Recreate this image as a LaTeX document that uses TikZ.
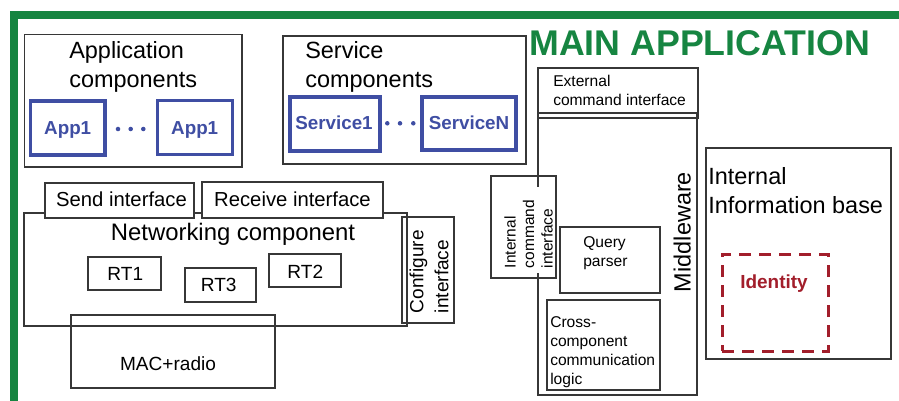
\documentclass[tikz,border=0pt]{standalone}
\usepackage{fontspec}
\setmainfont{Liberation Sans}
\usetikzlibrary{fit}
\definecolor{framegreen}{RGB}{22,133,65}
\definecolor{compblue}{RGB}{63,78,163}
\definecolor{idred}{RGB}{162,30,43}
\definecolor{boxgray}{RGB}{55,55,55}
\begin{document}
\begin{tikzpicture}[x=0.75pt,y=-0.75pt,
  box/.style={draw=boxgray, line width=0.9pt, inner sep=0pt},
  whitebox/.style={box, fill=white},
  bluebox/.style={draw=compblue, line width=2.6pt, inner sep=0pt},
  idbox/.style={draw=idred, line width=2.25pt, dash pattern=on 9pt off 6pt, inner sep=0pt},
  lbl/.style={inner sep=0pt, anchor=base},
  lblw/.style={inner sep=0pt, anchor=base west, align=left},
  bigtxt/.style={font=\fontsize{17.6}{21.75}\selectfont},
  midtxt/.style={font=\fontsize{14.3}{18.75}\selectfont},
  smalltxt/.style={font=\fontsize{11.7}{14.25}\selectfont},
  comptxt/.style={font=\bfseries\fontsize{14.1}{17}\selectfont, text=compblue},
  dot/.style={fill=compblue}
]
\useasboundingbox (0,0) rectangle (899,400);

% outer frame of the main application
\draw[framegreen, line width=6pt] (13.5,410) -- (13.5,14.5) -- (910,14.5);
\node[lblw, font=\bfseries\fontsize{26.8}{30}\selectfont, text=framegreen] (title) at (529,55) {MAIN APPLICATION};

% application components
\node[box, fit={(24.5,34.5)(242,167)}] (appgroup) {};
\node[lblw, bigtxt] (applbl) at (69,87.3) {Application\\components};
\node[bluebox, fit={(30.5,101)(105,155)}] (appa) {};
\node[bluebox, fit={(157.5,100.5)(232.5,154.5)}] (appb) {};
\node[lbl, comptxt] at (67.7,134) {App1};
\node[lbl, comptxt] at (194.7,134) {App1};
\fill[dot] (118,129) circle (1.7pt) (130.7,129) circle (1.7pt) (143.3,129) circle (1.7pt);

% service components
\node[box, fit={(283,36)(526,164)}] (svcgroup) {};
\node[lblw, bigtxt] (svclbl) at (305,87.3) {Service\\components};
\node[bluebox, fit={(290,97)(380,151)}] (svca) {};
\node[bluebox, fit={(422,97)(516,150)}] (svcn) {};
\node[lbl, comptxt] at (334,129) {Service1};
\node[lbl, comptxt] at (469,129) {ServiceN};
\fill[dot] (387.3,123.3) circle (1.7pt) (400,123.3) circle (1.7pt) (413.3,123.3) circle (1.7pt);

% networking component
\node[box, fit={(24,213)(407,326)}] (net) {};
\node[whitebox, fit={(45,183)(194,218)}] (send) {};
\node[whitebox, fit={(202,182)(383,218)}] (recv) {};
\node[lbl, font=\fontsize{15.2}{18}\selectfont] at (121.5,206.5) {Send interface};
\node[lbl, font=\fontsize{15.2}{18}\selectfont] at (292.5,206.5) {Receive interface};
\node[lbl, font=\fontsize{17.9}{21}\selectfont] (netlbl) at (233,240.7) {Networking component};
\node[box, fit={(88,257)(161,290)}] (rt1) {};
\node[box, fit={(185,268)(256,302)}] (rt3) {};
\node[box, fit={(269,254)(341,287)}] (rt2) {};
\node[lbl, midtxt] at (125.3,280.7) {RT1};
\node[lbl, midtxt] at (218.7,291.7) {RT3};
\node[lbl, midtxt] at (305.3,278.3) {RT2};
\node[box, fit={(402,217)(454,323)}] (conf) {};
\node[lblw, midtxt, rotate=90] (conflbl) at (448.3,313.3) {Configure\\interface};
\node[box, fit={(71,315)(275,388)}] (mac) {};
\node[lbl, midtxt] at (168,370) {MAC+radio};

% middleware
\node[box, fit={(538,68)(698,118)}] (ext) {};
\node[lblw, smalltxt] (extlbl) at (553,105.5) {External\\command interface};
\node[box, fit={(538,113)(697,395)}] (mid) {};
\node[lbl, bigtxt, rotate=90] (midlbl) at (690.7,232) {Middleware};
\node[smalltxt, rotate=90, anchor=base west, align=left, fill=white,
      text width=57pt, inner xsep=3.75pt, inner ysep=0.75pt, font=\fontsize{11.6}{13.9}\selectfont]
      (intlbl) at (515.5,273.3) {Internal\\command\\interface};
\node[box, fit={(491,176)(556,278)}] (intcmd) {};
\node[box, fit={(560,227)(660,293)}] (query) {};
\node[lblw, smalltxt] (querylbl) at (583,266) {Query\\parser};
\node[box, fit={(547,300)(660,390)}] (cross) {};
\node[lblw, smalltxt] (crosslbl) at (550,384) {Cross-\\component\\communication\\logic};

% internal information base
\node[box, fit={(706,148)(891,359)}] (info) {};
\node[lblw, font=\fontsize{17.6}{21.25}\selectfont] (infolbl) at (708,213.3) {Internal\\Information base};
\node[idbox, fit={(722,254)(828,351)}] (ident) {};
\node[lbl, font=\bfseries\fontsize{14.2}{17}\selectfont, text=idred] at (774,288.3) {Identity};
\end{tikzpicture}
\end{document}
